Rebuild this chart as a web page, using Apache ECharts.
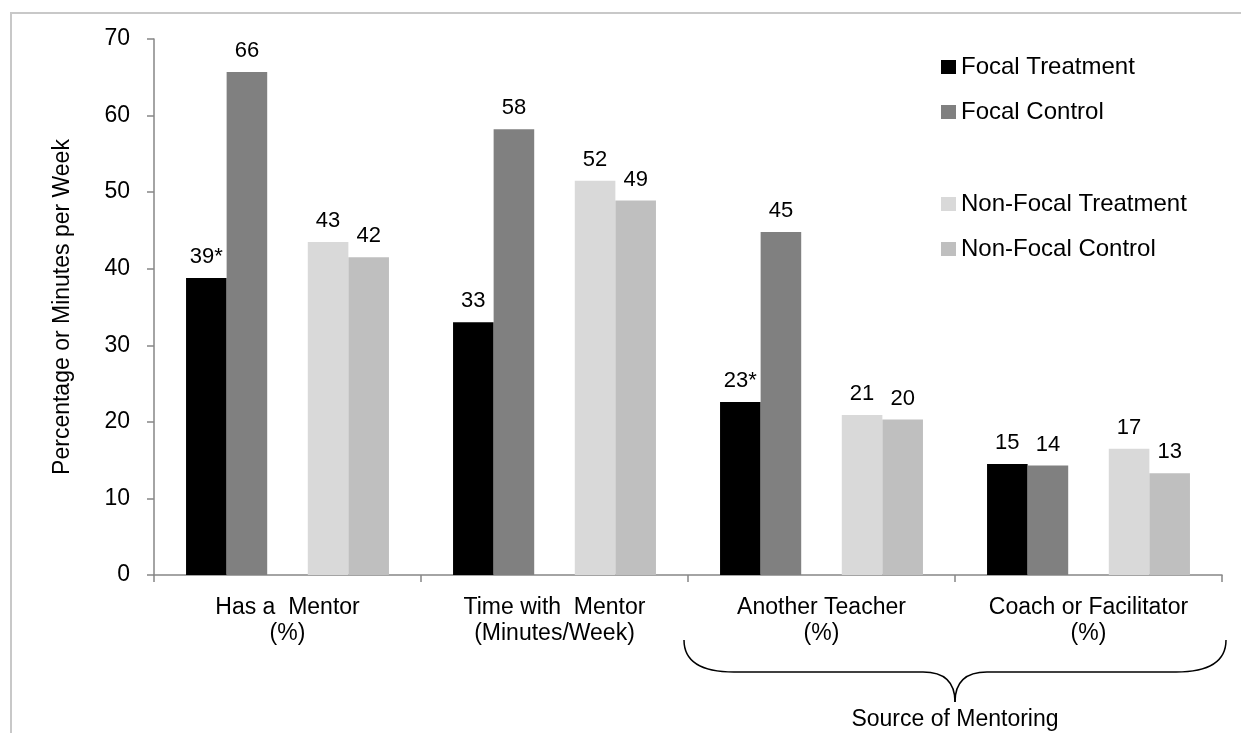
<!DOCTYPE html>
<html>
<head>
<meta charset="utf-8">
<script src="https://cdn.jsdelivr.net/npm/echarts@6/dist/echarts.min.js"></script>
<style>
html,body{margin:0;padding:0;background:#fff;}
#chart{width:1241px;height:733px;}
</style>
</head>
<body>
<div id="chart"></div>
<script>
const categories = ['Has a  Mentor\n(%)', 'Time with  Mentor\n(Minutes/Week)', 'Another Teacher\n(%)', 'Coach or Facilitator\n(%)'];
const focalTreatment = [38.8, 33.0, 22.6, 14.5];
const focalControl = [65.7, 58.2, 44.8, 14.3];
const nonFocalTreatment = [43.5, 51.5, 20.9, 16.5];
const nonFocalControl = [41.5, 48.9, 20.3, 13.3];
const focalTreatmentLabels = ['39*', '33', '23*', '15'];
const focalControlLabels = ['66', '58', '45', '14'];
const nonFocalTreatmentLabels = ['43', '52', '21', '17'];
const nonFocalControlLabels = ['42', '49', '20', '13'];
const yTicks = [0, 10, 20, 30, 40, 50, 60, 70];
const braceText = 'Source of Mentoring';

const FONT = "'Liberation Sans', Arial, sans-serif";
const chart = echarts.init(document.getElementById('chart'));

function barSeries(name, data, labels, color) {
  return {
    name: name, type: 'bar', data: data,
    itemStyle: { color: color },
    label: {
      show: true, position: 'top', distance: 10,
      color: '#000', fontSize: 22, fontFamily: FONT,
      formatter: p => labels[p.dataIndex]
    }
  };
}

const legendStyle = {
  orient: 'vertical', left: 941, padding: 0,
  icon: 'rect', itemWidth: 15, itemHeight: 14, itemGap: 21,
  textStyle: { fontSize: 24, color: '#000', fontFamily: FONT, lineHeight: 24 }
};

const option = {
  animation: false,
  backgroundColor: '#fff',
  textStyle: { fontFamily: FONT },
  grid: { left: 154, right: 19, top: 39, bottom: 158, containLabel: false },
  legend: [
    Object.assign({ data: ['Focal Treatment', 'Focal Control'], top: 55 }, legendStyle),
    Object.assign({ data: ['Non-Focal Treatment', 'Non-Focal Control'], top: 192 }, legendStyle)
  ],
  xAxis: {
    type: 'category', data: categories,
    axisLine: { lineStyle: { color: '#868686', width: 1.5 } },
    axisTick: { show: true, length: 7, lineStyle: { color: '#868686', width: 1.5 } },
    axisLabel: { interval: 0, margin: 20, color: '#000', fontSize: 23, lineHeight: 26, fontFamily: FONT }
  },
  yAxis: {
    type: 'value', min: yTicks[0], max: yTicks[yTicks.length - 1], interval: 10,
    name: 'Percentage or Minutes per Week', nameLocation: 'middle', nameRotate: 90, nameGap: 80,
    nameTextStyle: { color: '#000', fontSize: 23, fontFamily: FONT },
    axisLine: { show: true, lineStyle: { color: '#868686', width: 1.5 } },
    axisTick: { show: true, length: 7, lineStyle: { color: '#868686', width: 1.5 } },
    splitLine: { show: false },
    axisLabel: { margin: 24, color: '#000', fontSize: 23, fontFamily: FONT }
  },
  series: [
    Object.assign(barSeries('Focal Treatment', focalTreatment, focalTreatmentLabels, '#000000'), { barGap: '0%', barCategoryGap: '24%' }),
    barSeries('Focal Control', focalControl, focalControlLabels, '#808080'),
    { name: 'gap', type: 'bar', data: [] },
    barSeries('Non-Focal Treatment', nonFocalTreatment, nonFocalTreatmentLabels, '#D9D9D9'),
    barSeries('Non-Focal Control', nonFocalControl, nonFocalControlLabels, '#BFBFBF')
  ]
};
chart.setOption(option);

// Brace under the last two categories and outer frame
const c0 = chart.convertToPixel({ xAxisIndex: 0 }, 0);
const c1 = chart.convertToPixel({ xAxisIndex: 0 }, 1);
const bw = c1 - c0;
const c2 = chart.convertToPixel({ xAxisIndex: 0 }, 2);
const c3 = chart.convertToPixel({ xAxisIndex: 0 }, 3);
const x0 = c2 - bw / 2 - 4;
const x1 = c3 + bw / 2 + 4;
const xm = (c2 + c3) / 2;
const yt = 640, yh = 672, ytip = 702;
const braceStyle = { fill: 'none', stroke: '#000', lineWidth: 1.5 };

chart.setOption({
  graphic: [
    { type: 'rect', shape: { x: 11, y: 13, width: 1400, height: 900 }, style: { fill: 'none', stroke: '#C8C8C8', lineWidth: 2 }, silent: true, z: 0 },
    { type: 'bezierCurve', shape: { x1: x0, y1: yt, cpx1: x0, cpy1: yh, x2: x0 + 50, y2: yh }, style: braceStyle, silent: true },
    { type: 'line', shape: { x1: x0 + 50, y1: yh, x2: xm - 32, y2: yh }, style: braceStyle, silent: true },
    { type: 'bezierCurve', shape: { x1: xm - 32, y1: yh, cpx1: xm, cpy1: yh, x2: xm, y2: ytip }, style: braceStyle, silent: true },
    { type: 'bezierCurve', shape: { x1: xm, y1: ytip, cpx1: xm, cpy1: yh, x2: xm + 32, y2: yh }, style: braceStyle, silent: true },
    { type: 'line', shape: { x1: xm + 32, y1: yh, x2: x1 - 50, y2: yh }, style: braceStyle, silent: true },
    { type: 'bezierCurve', shape: { x1: x1 - 50, y1: yh, cpx1: x1, cpy1: yh, x2: x1, y2: yt }, style: braceStyle, silent: true },
    { type: 'text', x: xm, y: 720, style: { text: braceText, fill: '#000', font: '23px ' + FONT, textAlign: 'center', textVerticalAlign: 'middle' }, silent: true }
  ]
});
</script>
</body>
</html>
